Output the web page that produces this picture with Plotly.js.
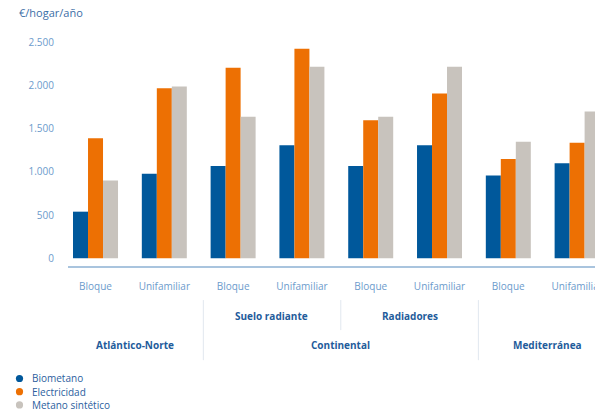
<!DOCTYPE html>
<html>
<head>
<meta charset="utf-8">
<script src="https://cdn.plot.ly/plotly-3.0.1.min.js"></script>
<style>html,body{margin:0;padding:0;background:#fff;overflow:hidden;}#chart{width:595px;height:411px;}</style>
</head>
<body>
<div id="chart"></div>
<script>
// ---- data ----
var categories = ['Bloque', 'Unifamiliar', 'Bloque', 'Unifamiliar', 'Bloque', 'Unifamiliar', 'Bloque', 'Unifamiliar'];
var biometano = [540, 980, 1070, 1310, 1070, 1310, 960, 1100];
var electricidad = [1390, 1970, 2210, 2430, 1600, 1910, 1150, 1340];
var metanoSintetico = [900, 1990, 1640, 2220, 1640, 2220, 1350, 1700];
var seriesNames = ['Biometano', 'Electricidad', 'Metano sintético'];
var yTickVals = [0, 500, 1000, 1500, 2000, 2500];
var yTickText = ['0', '500', '1.000', '1.500', '2.000', '2.500'];
var subGroups = ['Suelo radiante', 'Radiadores'];
var climateZones = ['Atlántico-Norte', 'Continental', 'Mediterránea'];

// ---- layout helpers ----
var W = 595, H = 411;
var mL = 68, mR = 0, mT = 34.4, mB = 145;
var pw = W - mL - mR, ph = H - mT - mB;
function px2paperX(px) { return (px - mL) / pw; }
function px2paperY(py) { return (H - mB - py) / ph; }

var colors = ['#00589b', '#ed7003', '#c8c3bd'];
var xIdx = categories.map(function (c, i) { return i; });
var values = [biometano, electricidad, metanoSintetico];

var traces = values.map(function (v, k) {
  return {
    type: 'bar', x: xIdx, y: v, name: seriesNames[k],
    marker: { color: colors[k], line: { width: 0 } },
    showlegend: false, hoverinfo: 'skip'
  };
});

var font = 'Open Sans, Noto Sans, sans-serif';
var annotations = [];
var shapes = [];

// y axis title
annotations.push({ xref: 'paper', yref: 'paper', x: px2paperX(17), y: px2paperY(13),
  xanchor: 'left', yanchor: 'middle', showarrow: false, text: '€/hogar/año',
  font: { family: font, size: 11, color: '#3b6ea6' } });

// second row labels
var subX = [2.565, 4.565];
subGroups.forEach(function (s, i) {
  annotations.push({ xref: 'x', yref: 'paper', x: subX[i], y: px2paperY(315.5),
    xanchor: 'center', yanchor: 'middle', showarrow: false, text: '<b>' + s + '</b>',
    font: { family: font, size: 10, color: '#1f5c9b' } });
});
// third row labels
var zoneX = [0.575, 3.565, 6.57];
climateZones.forEach(function (s, i) {
  annotations.push({ xref: 'x', yref: 'paper', x: zoneX[i], y: px2paperY(344.5),
    xanchor: 'center', yanchor: 'middle', showarrow: false, text: '<b>' + s + '</b>',
    font: { family: font, size: 10, color: '#1f5c9b' } });
});
// separators
[[1.567, 300, 360], [3.565, 300, 330], [5.565, 300, 360]].forEach(function (s) {
  shapes.push({ type: 'line', xref: 'x', yref: 'paper', x0: s[0], x1: s[0],
    y0: px2paperY(s[1]), y1: px2paperY(s[2]), line: { color: '#e1e7ef', width: 1 } });
});

// legend
var legY = [378.3, 391.5, 404.7];
seriesNames.forEach(function (n, k) {
  var cx = 19.5, cy = legY[k], r = 3.6;
  shapes.push({ type: 'circle', xref: 'paper', yref: 'paper',
    x0: px2paperX(cx - r), x1: px2paperX(cx + r), y0: px2paperY(cy + r), y1: px2paperY(cy - r),
    fillcolor: colors[k], line: { width: 0 } });
  annotations.push({ xref: 'paper', yref: 'paper', x: px2paperX(30), y: px2paperY(cy),
    xanchor: 'left', yanchor: 'middle', showarrow: false, text: n,
    font: { family: font, size: 10, color: '#2c5e9e' } });
});

var layout = {
  width: W, height: H,
  margin: { l: mL, r: mR, t: mT, b: mB, pad: 0 },
  paper_bgcolor: '#ffffff', plot_bgcolor: '#ffffff',
  barmode: 'group', bargap: 0.346, bargroupgap: 0,
  showlegend: false,
  font: { family: font, size: 10, color: '#6c9bcc' },
  xaxis: {
    range: [-0.4, 7.26], tickvals: xIdx, ticktext: categories,
    showgrid: false, zeroline: false, showline: true, linecolor: '#a9c4de', linewidth: 1.5,
    ticks: '', ticklabelstandoff: 10, ticklabeloverflow: 'allow',
    tickfont: { family: font, size: 10, color: '#6c9bcc' }
  },
  yaxis: {
    range: [-90, 2600], tickvals: yTickVals, ticktext: yTickText,
    showgrid: false, zeroline: false, showline: false, ticks: '',
    ticklabelstandoff: 13,
    tickfont: { family: font, size: 10, color: '#6c9bcc' }
  },
  annotations: annotations,
  shapes: shapes
};

Plotly.newPlot('chart', traces, layout, { staticPlot: true, displayModeBar: false });
</script>
</body>
</html>
